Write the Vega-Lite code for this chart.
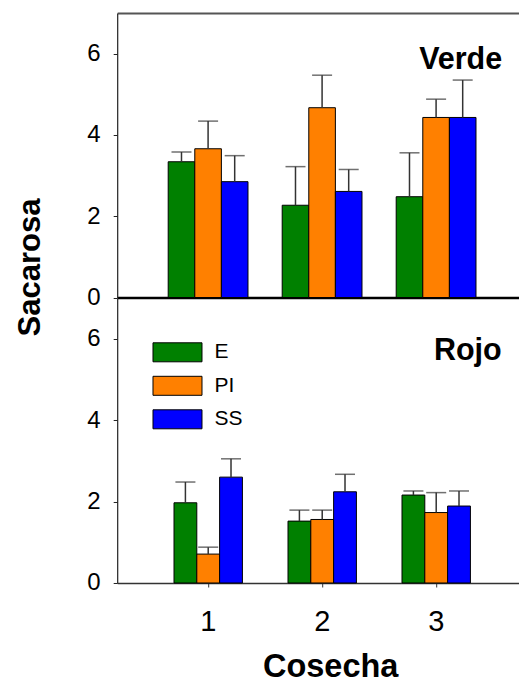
{
  "$schema": "https://vega.github.io/schema/vega-lite/v6.json",
  "padding": {"left": 14.2, "top": 13, "right": -1.25, "bottom": 0},
  "bounds": "flush",
  "spacing": 0,
  "config": {
    "font": "Liberation Sans",
    "view": {"stroke": null},
    "axis": {"grid": false, "labelColor": "black", "titleColor": "black"}
  },
  "datasets": {
    "verde": [
      {"cosecha": 1, "trat": "E", "value": 3.34, "upper": 3.58},
      {"cosecha": 1, "trat": "PI", "value": 3.66, "upper": 4.34},
      {"cosecha": 1, "trat": "SS", "value": 2.85, "upper": 3.49},
      {"cosecha": 2, "trat": "E", "value": 2.27, "upper": 3.22},
      {"cosecha": 2, "trat": "PI", "value": 4.67, "upper": 5.47},
      {"cosecha": 2, "trat": "SS", "value": 2.61, "upper": 3.15},
      {"cosecha": 3, "trat": "E", "value": 2.48, "upper": 3.56},
      {"cosecha": 3, "trat": "PI", "value": 4.43, "upper": 4.88},
      {"cosecha": 3, "trat": "SS", "value": 4.43, "upper": 5.35}
    ],
    "rojo": [
      {"cosecha": 1, "trat": "E", "value": 1.97, "upper": 2.48},
      {"cosecha": 1, "trat": "PI", "value": 0.71, "upper": 0.88},
      {"cosecha": 1, "trat": "SS", "value": 2.60, "upper": 3.05},
      {"cosecha": 2, "trat": "E", "value": 1.52, "upper": 1.79},
      {"cosecha": 2, "trat": "PI", "value": 1.56, "upper": 1.79},
      {"cosecha": 2, "trat": "SS", "value": 2.24, "upper": 2.67},
      {"cosecha": 3, "trat": "E", "value": 2.16, "upper": 2.26},
      {"cosecha": 3, "trat": "PI", "value": 1.73, "upper": 2.22},
      {"cosecha": 3, "trat": "SS", "value": 1.89, "upper": 2.26}
    ]
  },
  "vconcat": [
    {
      "width": 403,
      "height": 284.5,
      "data": {"name": "verde"},
      "title": {"text": "Verde", "anchor": "end", "frame": "group", "orient": "top", "offset": 0, "dx": -18, "dy": 86, "baseline": "alphabetic", "fontSize": 30.5, "fontWeight": "bold", "color": "black"},
      "layer": [
        {
          "mark": {"type": "bar", "stroke": "black", "strokeWidth": 1},
          "encoding": {
            "x": {"field": "cosecha", "type": "ordinal", "scale": {"paddingInner": 0.3, "paddingOuter": 0.4175, "align": 0.5357},
                  "axis": {"orient": "bottom", "labels": false, "ticks": false, "title": null, "domainColor": "black", "domainWidth": 2.5}},
            "xOffset": {"field": "trat", "type": "nominal", "scale": {"domain": ["E", "PI", "SS"]}},
            "y": {"field": "value", "type": "quantitative", "scale": {"domain": [0, 7], "nice": false},
                  "axis": {"values": [0, 2, 4, 6], "tickSize": 4, "tickColor": "#222", "domainColor": "#222", "domainWidth": 1.2, "labelFontSize": 24, "labelPadding": 13,
                           "title": "Sacarosa", "titleFontSize": 31, "titleFontWeight": "bold", "titleAngle": 270, "titleX": -78, "titleY": 254, "titleBaseline": "alphabetic", "titleAlign": "center"}},
            "fill": {"field": "trat", "type": "nominal", "scale": {"domain": ["E", "PI", "SS"], "range": ["#008000", "#FF8000", "#0000FF"]}, "legend": null}
          }
        },
        {
          "mark": {"type": "rule", "color": "#333", "strokeWidth": 1.5},
          "encoding": {
            "x": {"field": "cosecha", "type": "ordinal", "axis": {"orient": "top", "labels": false, "ticks": false, "title": null, "domainColor": "#555", "domainWidth": 2}},
            "xOffset": {"field": "trat", "type": "nominal"},
            "y": {"field": "value", "type": "quantitative", "axis": null},
            "y2": {"field": "upper"}
          }
        },
        {
          "mark": {"type": "tick", "orient": "horizontal", "size": 20, "thickness": 1.5, "color": "#333"},
          "encoding": {
            "x": {"field": "cosecha", "type": "ordinal", "axis": null},
            "xOffset": {"field": "trat", "type": "nominal"},
            "y": {"field": "upper", "type": "quantitative", "axis": null}
          }
        }
      ],
      "resolve": {"axis": {"x": "independent", "y": "independent"}}
    },
    {
      "width": 403,
      "height": 285,
      "data": {"name": "rojo"},
      "title": {"text": "Rojo", "anchor": "end", "frame": "group", "orient": "top", "offset": 0, "dx": -18.5, "dy": 92.5, "baseline": "alphabetic", "fontSize": 30.5, "fontWeight": "bold", "color": "black"},
      "layer": [
        {
          "mark": {"type": "bar", "stroke": "black", "strokeWidth": 1},
          "encoding": {
            "x": {"field": "cosecha", "type": "ordinal", "scale": {"paddingInner": 0.4, "paddingOuter": 0.4675, "align": 0.533},
                  "axis": {"orient": "bottom", "labelAngle": 0, "labelFontSize": 29, "labelPadding": 21, "tickSize": 4, "tickColor": "#333", "domainColor": "#333", "domainWidth": 1.5, "bandPosition": 0.5,
                           "title": "Cosecha", "titleFontSize": 32.5, "titleFontWeight": "bold", "titleX": 213, "titleY": 93.5, "titleBaseline": "alphabetic", "titleAlign": "center"}},
            "xOffset": {"field": "trat", "type": "nominal", "scale": {"domain": ["E", "PI", "SS"]}},
            "y": {"field": "value", "type": "quantitative", "scale": {"domain": [0, 7], "nice": false},
                  "axis": {"values": [0, 2, 4, 6], "tickSize": 4, "tickColor": "#222", "domainColor": "#222", "domainWidth": 1.2, "labelFontSize": 24, "labelPadding": 13, "title": null}},
            "fill": {"field": "trat", "type": "nominal", "scale": {"domain": ["E", "PI", "SS"], "range": ["#008000", "#FF8000", "#0000FF"]},
                     "legend": {"orient": "none", "legendX": 49.8, "legendY": 43.8, "title": null, "padding": 0,
                                "symbolType": "M-2.579,-1H2.579V1H-2.579Z", "symbolSize": 361, "symbolStrokeColor": "black", "symbolStrokeWidth": 1, "symbolOpacity": 1,
                                "labelFontSize": 21, "labelOffset": 26.5, "rowPadding": 10.5, "labelColor": "black"}}
          }
        },
        {
          "mark": {"type": "rule", "color": "#333", "strokeWidth": 1.5},
          "encoding": {
            "x": {"field": "cosecha", "type": "ordinal", "axis": null},
            "xOffset": {"field": "trat", "type": "nominal"},
            "y": {"field": "value", "type": "quantitative", "axis": null},
            "y2": {"field": "upper"}
          }
        },
        {
          "mark": {"type": "tick", "orient": "horizontal", "size": 20, "thickness": 1.5, "color": "#333"},
          "encoding": {
            "x": {"field": "cosecha", "type": "ordinal", "axis": null},
            "xOffset": {"field": "trat", "type": "nominal"},
            "y": {"field": "upper", "type": "quantitative", "axis": null}
          }
        }
      ],
      "resolve": {"axis": {"x": "independent", "y": "independent"}}
    }
  ],
  "resolve": {"scale": {"x": "independent", "xOffset": "independent", "y": "independent", "fill": "independent"}, "legend": {"fill": "independent"}}
}
